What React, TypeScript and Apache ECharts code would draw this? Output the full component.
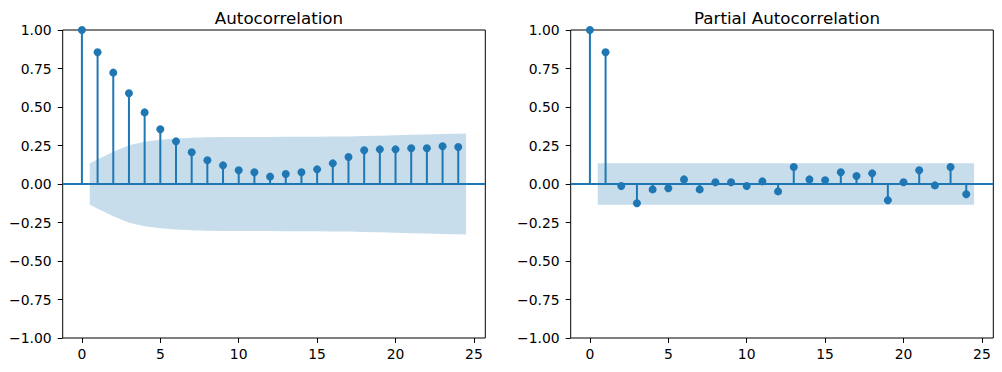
import React, { useEffect, useRef } from "react";
import * as echarts from "echarts";

const lags = [0, 1, 2, 3, 4, 5, 6, 7, 8, 9, 10, 11, 12, 13, 14, 15, 16, 17, 18, 19, 20, 21, 22, 23, 24];
const acfValues = [1.0, 0.855, 0.723, 0.589, 0.465, 0.355, 0.277, 0.206, 0.154, 0.121, 0.089, 0.076, 0.048, 0.065, 0.076, 0.095, 0.134, 0.175, 0.219, 0.225, 0.225, 0.232, 0.232, 0.245, 0.24];
const pacfValues = [1.0, 0.855, -0.013, -0.125, -0.035, -0.028, 0.03, -0.035, 0.011, 0.011, -0.013, 0.017, -0.048, 0.11, 0.03, 0.024, 0.076, 0.052, 0.069, -0.106, 0.011, 0.089, -0.009, 0.11, -0.067];
const acfBandX = [0.5, 2, 3, 4, 5, 6, 7, 8, 9, 10, 11, 12, 13, 14, 15, 16, 17, 18, 19, 20, 21, 22, 23, 24.5];
const acfBandUpper = [0.134, 0.21, 0.251, 0.275, 0.288, 0.296, 0.301, 0.303, 0.305, 0.306, 0.306, 0.306, 0.307, 0.307, 0.307, 0.308, 0.309, 0.311, 0.313, 0.316, 0.319, 0.322, 0.325, 0.328];
const pacfBandX = [0.5, 24.5];
const pacfBandUpper = [0.134, 0.134];
const xTicks = [0, 5, 10, 15, 20, 25];
const yTicks = [-1, -0.75, -0.5, -0.25, 0, 0.25, 0.5, 0.75, 1];
const titles = ["Autocorrelation", "Partial Autocorrelation"];

const BLUE = "#1f77b4";
const FONT = "DejaVu Sans";

export default function App() {
  const ref = useRef<HTMLDivElement>(null);
  useEffect(() => {
    if (!ref.current) return;
    const chart = echarts.init(ref.current, null, { renderer: "svg" });
    const gridLefts = [62.7, 570.7];
    const gridW = 422.6;
    const panels = [
      { values: acfValues, bandX: acfBandX, bandU: acfBandUpper },
      { values: pacfValues, bandX: pacfBandX, bandU: pacfBandUpper },
    ];
    const series: any[] = [];
    panels.forEach((p, i) => {
      series.push({
        type: "line",
        xAxisIndex: i,
        yAxisIndex: i,
        data: p.bandX.map((x, k) => [x, p.bandU[k]]),
        symbol: "none",
        lineStyle: { width: 0 },
        areaStyle: { color: "rgba(31,119,180,0.25)", opacity: 1 },
        silent: true,
        z: 1,
      });
      series.push({
        type: "line",
        xAxisIndex: i,
        yAxisIndex: i,
        data: p.bandX.map((x, k) => [x, -p.bandU[k]]),
        symbol: "none",
        lineStyle: { width: 0 },
        areaStyle: { color: "rgba(31,119,180,0.25)", opacity: 1 },
        silent: true,
        z: 1,
      });
      series.push({
        type: "custom",
        xAxisIndex: i,
        yAxisIndex: i,
        data: lags.map((l, k) => [l, p.values[k]]),
        encode: { x: 0, y: 1 },
        renderItem: (params: any, api: any) => {
          const x = api.value(0);
          const y = api.value(1);
          const a = api.coord([x, 0]);
          const b = api.coord([x, y]);
          return {
            type: "line",
            shape: { x1: a[0], y1: a[1], x2: b[0], y2: b[1] },
            style: { stroke: BLUE, lineWidth: 2 },
          };
        },
        markLine: {
          silent: true,
          symbol: ["none", "none"],
          label: { show: false },
          lineStyle: { color: BLUE, width: 2, type: "solid" },
          data: [{ yAxis: 0 }],
        },
        z: 2,
      });
      series.push({
        type: "scatter",
        xAxisIndex: i,
        yAxisIndex: i,
        data: lags.map((l, k) => [l, p.values[k]]),
        symbol: "circle",
        symbolSize: 8,
        itemStyle: { color: BLUE, opacity: 1 },
        z: 3,
      });
    });
    const fmt = (v: number) => v.toFixed(2).replace("-", "\u2212");
    chart.setOption({
      animation: false,
      title: titles.map((t, i) => ({
        text: t,
        left: gridLefts[i] + gridW / 2,
        top: 4,
        textAlign: "center",
        textStyle: { fontFamily: FONT, fontSize: 16.7, fontWeight: "normal", color: "#000" },
      })),
      grid: gridLefts.map((l) => ({
        left: l,
        top: 30,
        width: gridW,
        height: 308,
        show: true,
        borderColor: "#000",
        borderWidth: 1,
        backgroundColor: "transparent",
      })),
      xAxis: gridLefts.map((_, i) => ({
        type: "value",
        gridIndex: i,
        position: "bottom",
        min: -1.225,
        max: 25.725,
        splitLine: { show: false },
        axisLine: { show: false, onZero: false },
        axisTick: { show: true, length: 5, lineStyle: { color: "#000" }, customValues: xTicks },
        axisLabel: {
          show: true,
          customValues: xTicks,
          margin: 9,
          color: "#000",
          fontFamily: FONT,
          fontSize: 13.9,
        },
      })),
      yAxis: gridLefts.map((_, i) => ({
        type: "value",
        gridIndex: i,
        position: "left",
        min: -1,
        max: 1,
        interval: 0.25,
        splitLine: { show: false },
        axisLine: { show: false, onZero: false },
        axisTick: { show: true, length: 5, lineStyle: { color: "#000" }, customValues: yTicks },
        axisLabel: {
          show: true,
          customValues: yTicks,
          margin: 11,
          color: "#000",
          fontFamily: FONT,
          fontSize: 13.9,
          formatter: (v: number) => fmt(v),
        },
      })),
      series,
    });
    return () => chart.dispose();
  }, []);
  return (
    <div
      ref={ref}
      style={{ position: "fixed", left: 0, top: 0, width: 1002, height: 372, background: "#fff" }}
    />
  );
}
